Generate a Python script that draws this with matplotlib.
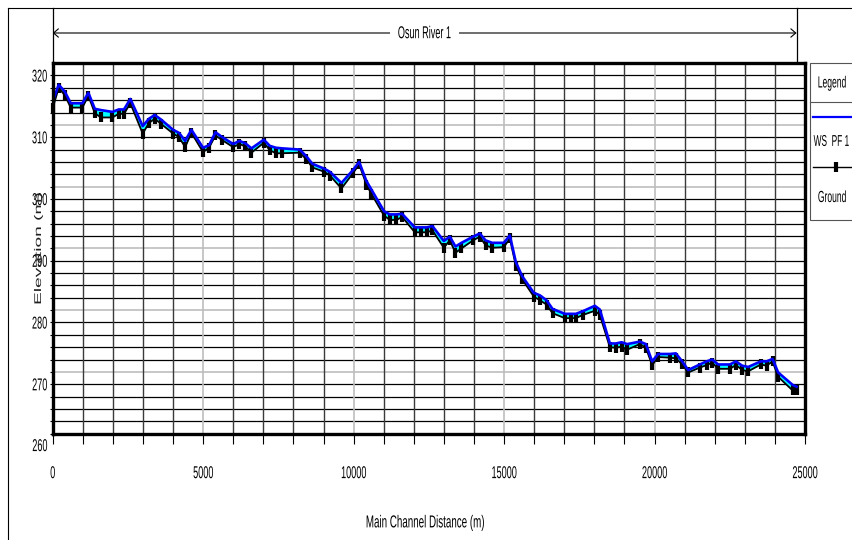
import numpy as np
import matplotlib
matplotlib.use("Agg")
import matplotlib.pyplot as plt
from matplotlib import font_manager as fm
from matplotlib.patheffects import AbstractPathEffect
from matplotlib.transforms import Affine2D, blended_transform_factory
from matplotlib.lines import Line2D
from matplotlib.patches import Rectangle

# ---- profile data: main channel distance (m), water surface and ground (m) ----
distance = [0, 200, 400, 600, 985, 1185, 1400, 1600, 1985, 2195, 2370, 2580,
            2990, 3200, 3390, 3590, 4000, 4200, 4400, 4610, 4995, 5195, 5410,
            5610, 5995, 6205, 6405, 6605, 7015, 7215, 7415, 7620, 8210, 8430,
            8630, 9025, 9210, 9596, 9983, 10183, 10427, 10594, 11013, 11202,
            11424, 11611, 12033, 12255, 12422, 12621, 12997, 13196, 13385,
            13585, 13971, 14193, 14383, 14603, 14991, 15191, 15390, 15600,
            15988, 16188, 16410, 16610, 17019, 17208, 17385, 17607, 18016,
            18182, 18515, 18714, 18903, 19090, 19512, 19712, 19921, 20120,
            20509, 20708, 20918, 21118, 21506, 21729, 21916, 22115, 22504,
            22704, 22913, 23113, 23534, 23723, 23922, 24109, 24587, 24720]

ws_pf1 = [315.8, 318.5, 317.4, 315.5, 315.5, 317.2, 314.6, 314.4, 314.1, 314.5,
          314.5, 316.2, 311.8, 313.0, 313.6, 312.9, 311.2, 310.7, 309.4, 311.2,
          308.3, 308.7, 310.8, 310.1, 308.9, 309.4, 309.0, 308.2, 309.6, 308.6,
          308.3, 308.2, 308.0, 306.9, 305.7, 304.9, 304.4, 302.6, 304.7, 306.0,
          302.9, 301.5, 298.0, 297.5, 297.5, 297.6, 295.4, 295.4, 295.4, 295.6,
          293.2, 293.9, 292.3, 292.9, 293.9, 294.4, 293.3, 292.9, 292.9, 294.1,
          289.8, 287.5, 284.8, 284.4, 283.6, 282.2, 281.4, 281.4, 281.4, 281.8,
          282.7, 282.1, 276.6, 276.6, 276.8, 276.5, 276.9, 276.5, 273.7, 274.9,
          274.9, 275.0, 273.7, 272.3, 273.2, 273.7, 274.0, 273.2, 273.2, 273.7,
          273.0, 272.8, 273.7, 273.7, 274.1, 271.9, 269.9, 269.6]

ground = [314.7, 318.0, 316.8, 314.8, 314.8, 316.7, 313.9, 313.2, 313.2, 313.8,
          313.8, 315.5, 310.6, 312.3, 313.0, 312.2, 310.6, 310.0, 308.4, 310.7,
          307.6, 308.3, 310.3, 309.6, 308.4, 308.9, 308.5, 307.5, 309.1, 307.9,
          307.4, 307.4, 307.5, 306.4, 305.1, 304.4, 303.8, 301.7, 304.2, 305.6,
          302.3, 300.8, 297.3, 296.6, 296.6, 297.1, 294.6, 294.6, 294.6, 294.9,
          292.1, 293.3, 291.3, 292.0, 293.3, 293.9, 292.5, 292.1, 292.2, 293.6,
          289.2, 287.0, 284.2, 283.6, 282.9, 281.5, 280.7, 280.7, 280.7, 281.2,
          281.9, 281.2, 276.0, 275.9, 276.1, 275.6, 276.5, 275.9, 273.1, 274.4,
          274.3, 274.2, 273.2, 271.9, 272.7, 273.1, 273.5, 272.5, 272.5, 273.1,
          272.3, 272.1, 273.2, 273.0, 273.7, 271.2, 269.0, 269.0]

reach_name = "Osun River 1"
x_tick_values = [0, 5000, 10000, 15000, 20000, 25000]
y_tick_values = [270, 280, 290, 300, 310, 320]
legend_labels = ["WS  PF 1", "Ground"]

# ---- fonts: tall, narrow lettering ----
available = {f.name for f in fm.fontManager.ttflist}
if "Liberation Sans Narrow" in available:
    FONT, SQUEEZE = "Liberation Sans Narrow", 1.0
else:
    FONT, SQUEEZE = "Liberation Sans", 0.82
plt.rcParams["font.family"] = [FONT, "DejaVu Sans"]


class Stretch(AbstractPathEffect):
    """Scale a text path about its own centre."""

    def __init__(self, sx=1.0, sy=1.0):
        super().__init__()
        self._sx, self._sy = sx, sy

    def draw_path(self, renderer, gc, tpath, affine, rgbFace=None):
        bb = affine.transform_path(tpath).get_extents()
        cx, cy = (bb.x0 + bb.x1) / 2, (bb.y0 + bb.y1) / 2
        t = affine + Affine2D().translate(-cx, -cy).scale(self._sx, self._sy).translate(cx, cy)
        renderer.draw_path(gc, tpath, t, rgbFace)


TALL = [Stretch(SQUEEZE, 1.55)]

W, H = 853, 540
fig = plt.figure(figsize=(W / 100, H / 100), dpi=100)
fig.patch.set_facecolor("white")


def fx(px):
    return px / W


def fy(py):
    return 1 - py / H


left, right, top, bottom = 52.7, 805.0, 63.0, 434.0
ax = fig.add_axes([fx(left), fy(bottom), fx(right - left), (bottom - top) / H])
ax.set_xlim(0, 25000)
ax.set_ylim(261.94, 322.02)

# grid
for v in range(264, 322, 2):
    light = v % 10 == 2
    ax.axhline(v, color="#b8b8b8" if light else "black", lw=1.1 if light else 0.9, zorder=1)
for d in range(1000, 25000, 1000):
    light = d % 5000 == 0
    ax.axvline(d, color="#bdbdbd" if light else "#3a3a3a", lw=1.2 if light else 1.0, zorder=1)

# water between ground and water surface
ax.fill_between(distance, ground, ws_pf1, color="#00ffff", lw=0, zorder=2)
ax.plot(distance, ground, color="black", lw=1.3, marker="|", ms=7.5, mew=3.0,
        zorder=3, clip_on=False)
ax.plot(distance, ws_pf1, color="#0000ff", lw=1.9, zorder=4)

for s in ax.spines.values():
    s.set_linewidth(2.4)
    s.set_zorder(6)

ax.set_xticks(x_tick_values)
ax.set_xticklabels([str(v) for v in x_tick_values])
ax.set_xticks(range(0, 25001, 1000), minor=True)
ax.tick_params(axis="x", which="both", direction="out", length=7.5, width=0.8,
               labelsize=8, pad=17)
ax.set_yticks(y_tick_values)
ax.set_yticklabels([str(v) for v in y_tick_values])
ax.set_yticks(range(262, 322, 2), minor=True)
ax.tick_params(axis="y", which="both", direction="out", length=2.2, width=0.8,
               labelsize=8, pad=0.5)

low = ax.annotate("260", xy=(0, 260), xycoords=("axes fraction", "data"),
                  xytext=(-2.5, 0), textcoords="offset points", ha="right",
                  va="center", fontsize=8, annotation_clip=False)
low.set_path_effects(TALL)

ax.set_xlabel("Main Channel Distance (m)", fontsize=8.6, va="center")
ax.xaxis.set_label_coords((425 - left) / (right - left), (bottom - 523) / (bottom - top))
ax.xaxis.label.set_path_effects([Stretch(SQUEEZE, 1.45)])
ax.set_ylabel("Elevation (m)", fontsize=7, va="center", color="#222222")
ax.yaxis.set_label_coords((38 - left) / (right - left), 0.5)
ax.yaxis.label.set_path_effects([Stretch(1.0, 2.4 * SQUEEZE)])

# reach bracket above the profile
bt = blended_transform_factory(ax.transData, fig.transFigure)
for d in (distance[0], distance[-1]):
    fig.add_artist(Line2D([d, d], [fy(8), fy(top)], transform=bt, color="black", lw=0.9))
ax.annotate("", xy=(distance[-1], fy(33)), xytext=(distance[0], fy(33)),
            xycoords=bt, textcoords=bt, annotation_clip=False,
            arrowprops=dict(arrowstyle="<->,head_length=0.35,head_width=0.3",
                            lw=0.8, color="black", shrinkA=0, shrinkB=0))
title = ax.text((distance[0] + distance[-1]) / 2, fy(33), reach_name, transform=bt,
                ha="center", va="center", fontsize=8,
                bbox=dict(facecolor="white", edgecolor="none", pad=1.5))
title.set_path_effects(TALL)

# outer frame
fig.add_artist(Line2D([fx(8), fx(8)], [0, fy(8)], color="black", lw=0.8))
fig.add_artist(Line2D([fx(8), 1], [fy(8), fy(8)], color="black", lw=0.8))

# legend panel
fig.add_artist(Rectangle((fx(810), fy(220)), fx(60), (220 - 63) / H,
                         facecolor="white", edgecolor="#555555", lw=0.8))
fig.add_artist(Line2D([fx(810), 1], [fy(102), fy(102)], color="#555555", lw=0.8))
legend_title = fig.text(fx(832), fy(83), "Legend", ha="center", va="center", fontsize=7.5)
fig.add_artist(Line2D([fx(813), 1], [fy(117), fy(117)], color="#0000ff", lw=1.6))
t1 = fig.text(fx(831.5), fy(141), legend_labels[0], ha="center", va="center", fontsize=7.3)
fig.add_artist(Line2D([fx(813), 1], [fy(167), fy(167)], color="black", lw=1.0))
fig.add_artist(Line2D([fx(836)], [fy(167)], color="black", marker="|", ms=7.5, mew=3.0))
t2 = fig.text(fx(832), fy(197), legend_labels[1], ha="center", va="center", fontsize=7.5)
for t in (legend_title, t1, t2):
    t.set_path_effects(TALL)

fig.canvas.draw()
for tk in ax.xaxis.get_major_ticks() + ax.yaxis.get_major_ticks():
    tk.label1.set_path_effects(TALL)

fig.savefig("out.png", dpi=100, facecolor="white")
